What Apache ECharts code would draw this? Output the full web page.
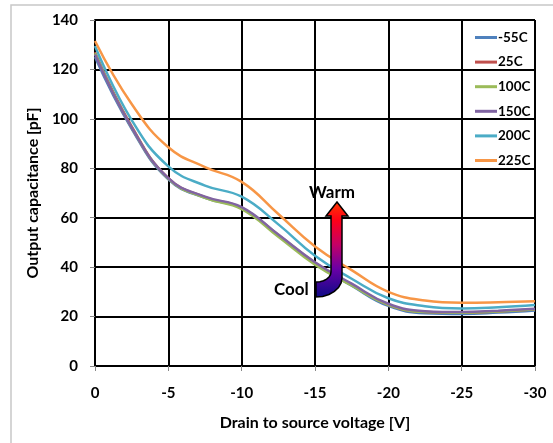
<!DOCTYPE html>
<html>
<head>
<meta charset="utf-8">
<script src="https://cdn.jsdelivr.net/npm/echarts@6/dist/echarts.min.js"></script>
<style>
html,body{margin:0;padding:0;background:#fff;}
#c{width:553px;height:443px;}
</style>
</head>
<body>
<div id="c"></div>
<script>
// Data
const voltage = [0, -2.5, -5, -7.5, -10, -12.5, -15, -17.5, -20, -22.5, -25, -27.5, -30];
const seriesNames = ['-55C', '25C', '100C', '150C', '200C', '225C'];
const cM55  = [125.0, 96.0, 75.5, 68.0, 63.8, 52.8, 41.5, 32.5, 24.3, 21.3, 21.0, 21.6, 22.5];
const c25   = [127.0, 97.0, 76.0, 68.3, 64.0, 53.0, 41.8, 33.0, 24.8, 21.8, 21.5, 22.1, 23.0];
const c100  = [126.5, 96.5, 75.8, 68.0, 63.5, 52.3, 41.0, 32.6, 24.8, 21.8, 21.5, 22.1, 23.0];
const c150  = [126.0, 96.5, 76.0, 68.5, 64.3, 53.2, 42.0, 33.3, 25.2, 22.2, 21.8, 22.4, 23.2];
const c200  = [129.5, 99.5, 80.8, 73.0, 68.5, 57.3, 44.6, 35.3, 27.4, 24.2, 23.3, 23.8, 24.7];
const c225  = [131.5, 106.0, 88.5, 80.5, 74.5, 61.5, 48.4, 38.8, 30.0, 26.5, 25.6, 25.8, 26.2];
const allValues = [cM55, c25, c100, c150, c200, c225];
const colors = ['#4F81BD', '#C0504D', '#9BBB59', '#8064A2', '#4BACC6', '#F79646'];

const FONT = 'Lato';
const chart = echarts.init(document.getElementById('c'));

const series = seriesNames.map((name, i) => ({
  name: name,
  type: 'line',
  data: voltage.map((v, k) => [v, allValues[i][k]]),
  smooth: 0.45,
  symbol: 'none',
  lineStyle: { width: 2.5, color: colors[i] },
  itemStyle: { color: colors[i] },
  z: 3 + i
}));

const arrowPoints = [
  [337, 202], [348, 216], [342, 216], [342, 278],
  [341.1, 282.9], [338.5, 287.5], [334.4, 291.4], [329, 294.5], [322.7, 296.4], [316, 297],
  [316, 282],
  [319.9, 281.7], [323.5, 280.7], [326.6, 279.1], [329, 277], [330.5, 274.6], [331, 272],
  [331, 216], [326, 216]
];

chart.setOption({
  animation: false,
  backgroundColor: '#fff',
  grid: { left: 95, right: 18, top: 20, bottom: 77, containLabel: false },
  xAxis: {
    type: 'value', min: -30, max: 0, interval: 5, inverse: true,
    name: 'Drain to source voltage [V]', nameLocation: 'middle', nameGap: 49,
    nameTextStyle: { fontFamily: FONT, fontWeight: 'bold', fontSize: 16, color: '#000' },
    axisLine: { show: true, onZero: false, lineStyle: { color: '#000', width: 2 } },
    axisTick: { show: true, length: 5, lineStyle: { color: '#888', width: 1 } },
    axisLabel: { fontFamily: FONT, fontWeight: 'bold', fontSize: 15, color: '#000', margin: 20 },
    splitLine: { show: true, lineStyle: { color: '#000', width: 2 } }
  },
  yAxis: {
    type: 'value', min: 0, max: 140, interval: 20,
    name: 'Output capacitance [pF]', nameLocation: 'middle', nameGap: 52,
    nameTextStyle: { fontFamily: FONT, fontWeight: 'bold', fontSize: 16, color: '#000' },
    axisLine: { show: true, onZero: false, lineStyle: { color: '#000', width: 2 } },
    axisTick: { show: true, length: 5, lineStyle: { color: '#888', width: 1 } },
    axisLabel: { fontFamily: FONT, fontWeight: 'bold', fontSize: 15, color: '#000', margin: 17 },
    splitLine: { show: true, lineStyle: { color: '#000', width: 2 } }
  },
  legend: {
    orient: 'vertical', left: 470, top: 25,
    icon: 'rect', itemWidth: 22, itemHeight: 3, itemGap: 9.6,
    textStyle: { fontFamily: FONT, fontWeight: 'bold', fontSize: 13.5, color: '#000', lineHeight: 15, padding: [0, 0, 0, -4] },
    data: seriesNames
  },
  graphic: [
    {
      type: 'rect', silent: true, z: -10,
      shape: { x: 11, y: 5, width: 600, height: 500 },
      style: { fill: 'none', stroke: '#c8c8c8', lineWidth: 1.5 }
    },
    {
      type: 'polygon', z: 100,
      shape: { points: arrowPoints },
      style: {
        fill: {
          type: 'linear', x: 0, y: 0, x2: 0, y2: 1,
          colorStops: [
            { offset: 0, color: '#ff3a00' },
            { offset: 0.2, color: '#ff0018' },
            { offset: 0.45, color: '#c40066' },
            { offset: 0.7, color: '#6a00a6' },
            { offset: 1, color: '#0c0a86' }
          ]
        },
        stroke: '#000', lineWidth: 1.5
      }
    },
    {
      type: 'text', z: 101, left: 309, top: 184,
      style: { text: 'Warm', fontFamily: FONT, fontSize: 17, fontWeight: 'bold', fill: '#000' }
    },
    {
      type: 'text', z: 101, left: 274, top: 281,
      style: { text: 'Cool', fontFamily: FONT, fontSize: 17, fontWeight: 'bold', fill: '#000' }
    }
  ],
  series: series
});
</script>
</body>
</html>
